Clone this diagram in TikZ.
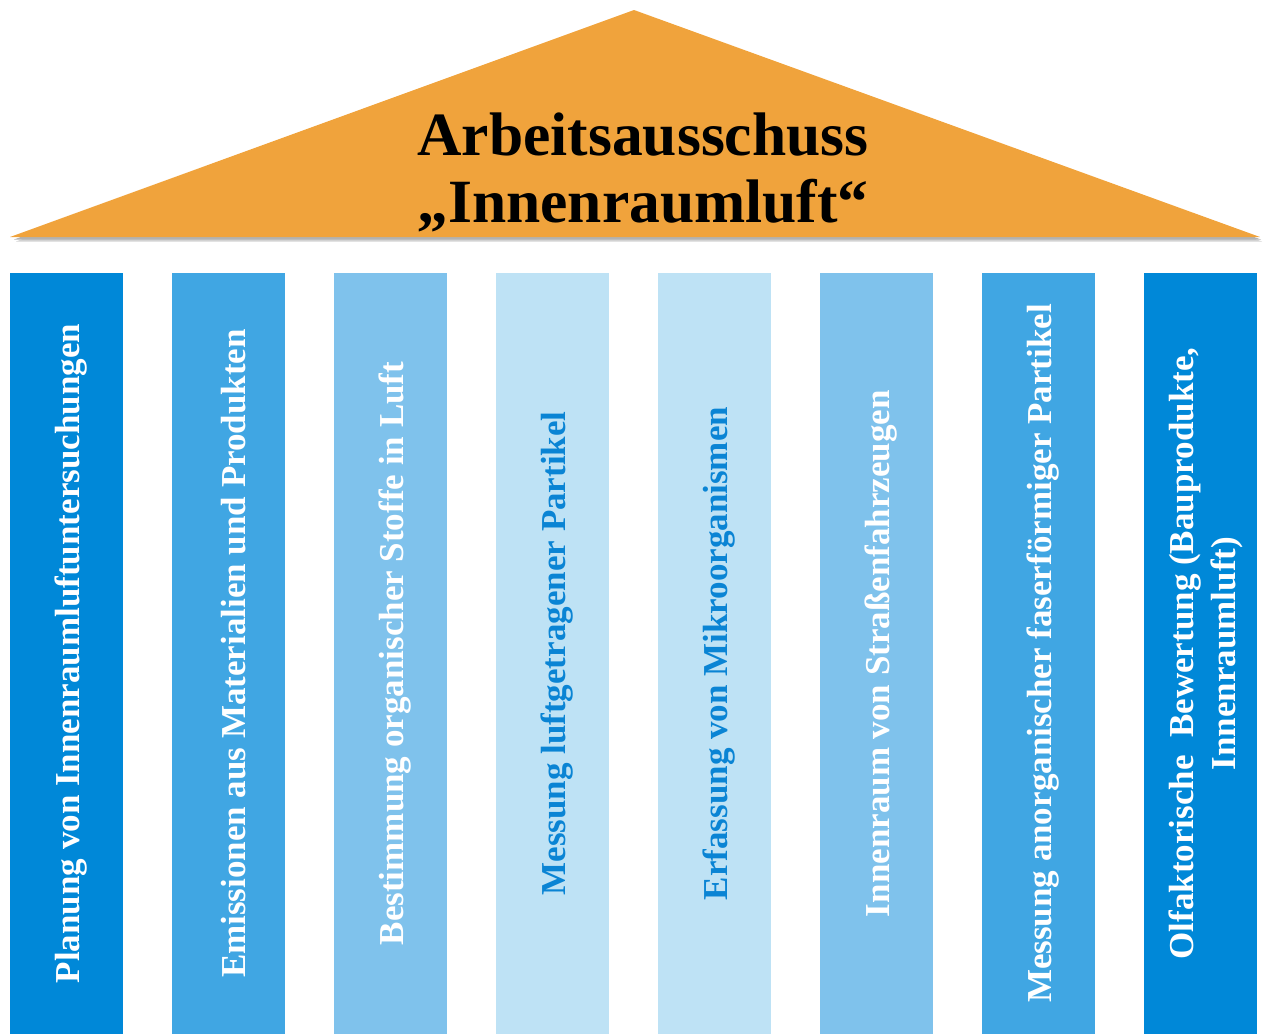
\documentclass[tikz,border=0pt]{standalone}
\usepackage{fontspec}
\setmainfont{Liberation Serif}
\definecolor{roof}{RGB}{240,163,60}
\definecolor{blueA}{RGB}{0,136,216}
\definecolor{blueB}{RGB}{64,166,227}
\definecolor{blueC}{RGB}{127,194,236}
\definecolor{blueD}{RGB}{190,226,245}
\definecolor{bluetext}{RGB}{10,132,212}
\tikzset{
  pillar/.style={minimum width=113pt, minimum height=761pt, inner sep=0pt},
  pillartext/.style={xshift=5pt, rotate=90, align=center,
    font=\fontsize{35}{42}\selectfont\bfseries, text=white},
  pale/.style={text=bluetext},
}
\begin{document}
\begin{tikzpicture}[x=1pt,y=-1pt]
  \useasboundingbox (0,0) rectangle (1264,1034);
  % Dach
  \fill[gray!35] (16,241.5) -- (634,15) -- (1262,241.5) -- cycle;
  \fill[gray!60] (14,239.5) -- (634,13) -- (1261,239.5) -- cycle;
  \fill[roof] (10,237) -- (634,10) -- (1260,237) -- cycle;
  \node[font=\fontsize{61.5}{67}\selectfont\bfseries, align=center] (title) at (643,172)
    {Arbeitsausschuss\\„Innenraumluft“};
  % Saeulen
  \node[pillar, fill=blueA] (p1) at (66.5,653.5) {};
  \node[pillar, fill=blueB] (p2) at (228.5,653.5) {};
  \node[pillar, fill=blueC] (p3) at (390.5,653.5) {};
  \node[pillar, fill=blueD] (p4) at (552.5,653.5) {};
  \node[pillar, fill=blueD] (p5) at (714.5,653.5) {};
  \node[pillar, fill=blueC] (p6) at (876.5,653.5) {};
  \node[pillar, fill=blueB] (p7) at (1038.5,653.5) {};
  \node[pillar, fill=blueA] (p8) at (1200.5,653.5) {};
  % Beschriftung
  \node[pillartext] (t1) at (p1) {Planung von Innenraumluftuntersuchungen};
  \node[pillartext] (t2) at (p2) {Emissionen aus Materialien und Produkten};
  \node[pillartext] (t3) at (p3) {Bestimmung organischer Stoffe in Luft};
  \node[pillartext, pale] (t4) at (p4) {Messung luftgetragener Partikel};
  \node[pillartext, pale] (t5) at (p5) {Erfassung von Mikroorganismen};
  \node[pillartext] (t6) at (p6) {Innenraum von Straßenfahrzeugen};
  \node[pillartext] (t7) at (p7) {Messung anorganischer faserförmiger Partikel};
  \node[pillartext] (t8) at (p8) {Olfaktorische\ \ Bewertung (Bauprodukte,\\Innenraumluft)};
\end{tikzpicture}
\end{document}
